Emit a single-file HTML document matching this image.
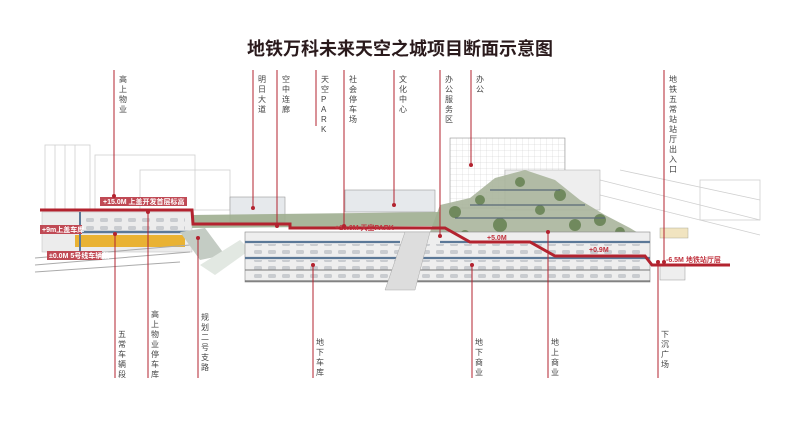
<!DOCTYPE html>
<html><head><meta charset="utf-8"><style>
html,body{margin:0;padding:0;background:#fff;width:800px;height:431px;overflow:hidden}
svg{display:block}
text{font-family:"Liberation Sans","Noto Sans CJK SC",sans-serif}
.v{font-size:8px;fill:#444}
.lab{font-size:7px;fill:#fff;font-weight:bold}
</style></head><body>
<svg width="800" height="431" viewBox="0 0 800 431" xmlns="http://www.w3.org/2000/svg">
<defs>
<pattern id="car" width="14" height="8" patternUnits="userSpaceOnUse"><rect x="2" y="2" width="8" height="4" rx="1.5" fill="#c9ccd0"/></pattern>
<pattern id="grid" width="6" height="6" patternUnits="userSpaceOnUse"><path d="M0 0H6M0 0V6" stroke="#ccc" stroke-width="0.5" fill="none"/></pattern>
</defs>
<text x="400" y="55" text-anchor="middle" font-size="18" font-weight="bold" fill="#2a1a1c">地铁万科未来天空之城项目断面示意图</text>

<!-- background buildings -->
<g stroke="#cfcfcf" fill="none" stroke-width="0.8">
<rect x="45" y="145" width="45" height="65"/><rect x="95" y="155" width="100" height="55"/>
<rect x="140" y="170" width="90" height="40"/>
<line x1="55" y1="145" x2="55" y2="210"/><line x1="65" y1="145" x2="65" y2="210"/><line x1="75" y1="145" x2="75" y2="210"/>
<line x1="600" y1="180" x2="760" y2="220"/><line x1="600" y1="195" x2="760" y2="235"/><line x1="620" y1="170" x2="760" y2="200"/>
<rect x="700" y="180" width="60" height="40"/>
</g>
<!-- office tower -->
<rect x="450" y="138" width="115" height="70" fill="url(#grid)" stroke="#999" stroke-width="0.6"/>
<rect x="505" y="170" width="95" height="40" fill="#eee" stroke="#aaa" stroke-width="0.5"/>

<!-- terraced green hill -->
<polygon points="430,232 440,205 470,198 495,178 525,170 555,180 580,200 605,215 630,228 650,240 650,262 430,262" fill="#aab59c" opacity="0.9"/>
<g fill="#607d4c" opacity="0.8">
<circle cx="455" cy="212" r="6"/><circle cx="480" cy="200" r="5"/><circle cx="520" cy="182" r="5"/><circle cx="560" cy="195" r="6"/><circle cx="600" cy="220" r="6"/><circle cx="620" cy="232" r="5"/><circle cx="500" cy="225" r="7"/><circle cx="575" cy="225" r="6"/><circle cx="540" cy="210" r="5"/><circle cx="465" cy="235" r="5"/>
</g>
<g stroke="#5a6a78" stroke-width="1.2"><line x1="490" y1="190" x2="560" y2="190"/><line x1="470" y1="205" x2="585" y2="205"/><line x1="455" y1="218" x2="605" y2="218"/></g>

<!-- mid buildings -->
<rect x="230" y="197" width="55" height="25" fill="#e6e9ec" stroke="#999" stroke-width="0.6"/>
<rect x="345" y="190" width="90" height="22" fill="#e6e9ec" stroke="#999" stroke-width="0.6"/>
<polygon points="190,215 440,212 440,226 190,228" fill="#9fae90" opacity="0.9"/>

<!-- left podium -->
<rect x="42" y="212" width="150" height="40" fill="#ececec" stroke="#bbb" stroke-width="0.5"/>
<rect x="85" y="214" width="100" height="16" fill="url(#car)"/>
<line x1="42" y1="232" x2="190" y2="232" stroke="#5b7897" stroke-width="2.5"/>
<rect x="75" y="235" width="110" height="12" fill="#e9b233"/>
<line x1="80" y1="212" x2="80" y2="258" stroke="#5b7897" stroke-width="2"/>
<g stroke="#aaa" stroke-width="1"><line x1="35" y1="258" x2="190" y2="245"/><line x1="35" y1="265" x2="190" y2="252"/><line x1="35" y1="272" x2="180" y2="262"/></g>
<polygon points="180,232 205,228 225,255 200,260" fill="#c4ccc4"/>
<polygon points="200,265 240,240 250,250 215,275" fill="#e2e8e2"/>

<!-- underground garage -->
<rect x="245" y="232" width="405" height="50" fill="#eeeeee" stroke="#888" stroke-width="0.6"/>
<rect x="248" y="244" width="398" height="13" fill="url(#car)"/>
<rect x="248" y="260" width="398" height="10" fill="url(#car)"/>
<rect x="248" y="272" width="398" height="9" fill="url(#car)"/>
<g stroke="#5b7897" stroke-width="2.2">
<line x1="245" y1="242" x2="400" y2="242"/><line x1="245" y1="258" x2="650" y2="258"/><line x1="440" y1="242" x2="650" y2="242"/>
</g>
<line x1="245" y1="270" x2="650" y2="270" stroke="#777" stroke-width="1"/>
<line x1="245" y1="281" x2="650" y2="281" stroke="#555" stroke-width="1"/>
<polygon points="405,232 430,232 415,290 385,290" fill="#ddd" stroke="#aaa" stroke-width="0.5"/>
<rect x="660" y="265" width="25" height="15" fill="#eee" stroke="#999" stroke-width="0.5"/>
<rect x="660" y="228" width="28" height="10" fill="#f1e4c0" stroke="#aa9" stroke-width="0.5"/>

<!-- red main section line -->
<polyline points="40,210 192,210 193,224 290,224 290,228 445,228 470,242 530,242 555,256 645,256 652,265 730,265" fill="none" stroke="#b3232f" stroke-width="3"/>

<!-- level labels -->
<rect x="100" y="197" width="87" height="9" fill="#c04a55"/><text x="103" y="204" class="lab">+15.0M  上盖开发首层标高</text>
<rect x="40" y="225" width="42" height="9" fill="#c04a55"/><text x="42" y="232" class="lab">+9m上盖车库</text>
<rect x="47" y="251" width="55" height="9" fill="#c04a55"/><text x="49" y="258" class="lab">±0.0M  5号线车辆段</text>
<text x="335" y="230" font-size="7" fill="#c0303c" font-weight="bold">+10.0M  天空PARK</text>
<text x="487" y="240" font-size="7" fill="#c0303c" font-weight="bold">+5.0M</text>
<text x="589" y="252" font-size="7" fill="#c0303c" font-weight="bold">+0.9M</text>
<text x="666" y="262" font-size="7" fill="#c0303c" font-weight="bold">-6.5M  地铁站厅层</text>

<!-- leader lines -->
<g stroke="#b3232f" stroke-width="1">
<line x1="114" y1="70" x2="114" y2="196"/><line x1="253" y1="70" x2="253" y2="208"/><line x1="277" y1="70" x2="277" y2="226"/>
<line x1="316" y1="70" x2="316" y2="126"/><line x1="344" y1="70" x2="344" y2="228"/><line x1="394" y1="70" x2="394" y2="205"/>
<line x1="440" y1="70" x2="440" y2="236"/><line x1="471" y1="70" x2="471" y2="165"/><line x1="664" y1="70" x2="664" y2="262"/>
<line x1="115" y1="234" x2="115" y2="378"/><line x1="148" y1="210" x2="148" y2="378"/><line x1="198" y1="238" x2="198" y2="378"/>
<line x1="313" y1="265" x2="313" y2="378"/><line x1="472" y1="265" x2="472" y2="378"/><line x1="548" y1="232" x2="548" y2="378"/><line x1="658" y1="262" x2="658" y2="378"/>
</g>
<g fill="#b3232f">
<circle cx="114" cy="196" r="2"/><circle cx="253" cy="208" r="2"/><circle cx="277" cy="226" r="2"/><circle cx="344" cy="226" r="2"/><circle cx="394" cy="205" r="2"/><circle cx="440" cy="236" r="2"/><circle cx="471" cy="165" r="2"/><circle cx="664" cy="262" r="2"/>
<circle cx="115" cy="234" r="2"/><circle cx="148" cy="212" r="2"/><circle cx="198" cy="238" r="2"/><circle cx="313" cy="265" r="2"/><circle cx="472" cy="265" r="2"/><circle cx="548" cy="232" r="2"/><circle cx="658" cy="262" r="2"/>
</g>

<g class="v">
<text x="119" y="82">高</text><text x="119" y="92">上</text><text x="119" y="102">物</text><text x="119" y="112">业</text>
<text x="258" y="82">明</text><text x="258" y="92">日</text><text x="258" y="102">大</text><text x="258" y="112">道</text>
<text x="282" y="82">空</text><text x="282" y="92">中</text><text x="282" y="102">连</text><text x="282" y="112">廊</text>
<text x="321" y="82">天</text><text x="321" y="92">空</text><text x="321" y="102">P</text><text x="321" y="112">A</text><text x="321" y="122">R</text><text x="321" y="132">K</text>
<text x="349" y="82">社</text><text x="349" y="92">会</text><text x="349" y="102">停</text><text x="349" y="112">车</text><text x="349" y="122">场</text>
<text x="399" y="82">文</text><text x="399" y="92">化</text><text x="399" y="102">中</text><text x="399" y="112">心</text>
<text x="445" y="82">办</text><text x="445" y="92">公</text><text x="445" y="102">服</text><text x="445" y="112">务</text><text x="445" y="122">区</text>
<text x="476" y="82">办</text><text x="476" y="92">公</text>
<text x="669" y="82">地</text><text x="669" y="92">铁</text><text x="669" y="102">五</text><text x="669" y="112">常</text><text x="669" y="122">站</text><text x="669" y="132">站</text><text x="669" y="142">厅</text><text x="669" y="152">出</text><text x="669" y="162">入</text><text x="669" y="172">口</text>
</g>
<g class="v">
<text x="118" y="337">五</text><text x="118" y="347">常</text><text x="118" y="357">车</text><text x="118" y="367">辆</text><text x="118" y="377">段</text>
<text x="151" y="317">高</text><text x="151" y="327">上</text><text x="151" y="337">物</text><text x="151" y="347">业</text><text x="151" y="357">停</text><text x="151" y="367">车</text><text x="151" y="377">库</text>
<text x="201" y="320">规</text><text x="201" y="330">划</text><text x="201" y="340">二</text><text x="201" y="350">号</text><text x="201" y="360">支</text><text x="201" y="370">路</text>
<text x="316" y="345">地</text><text x="316" y="355">下</text><text x="316" y="365">车</text><text x="316" y="375">库</text>
<text x="475" y="345">地</text><text x="475" y="355">下</text><text x="475" y="365">商</text><text x="475" y="375">业</text>
<text x="551" y="345">地</text><text x="551" y="355">上</text><text x="551" y="365">商</text><text x="551" y="375">业</text>
<text x="661" y="337">下</text><text x="661" y="347">沉</text><text x="661" y="357">广</text><text x="661" y="367">场</text>
</g>
</svg>
</body></html>
